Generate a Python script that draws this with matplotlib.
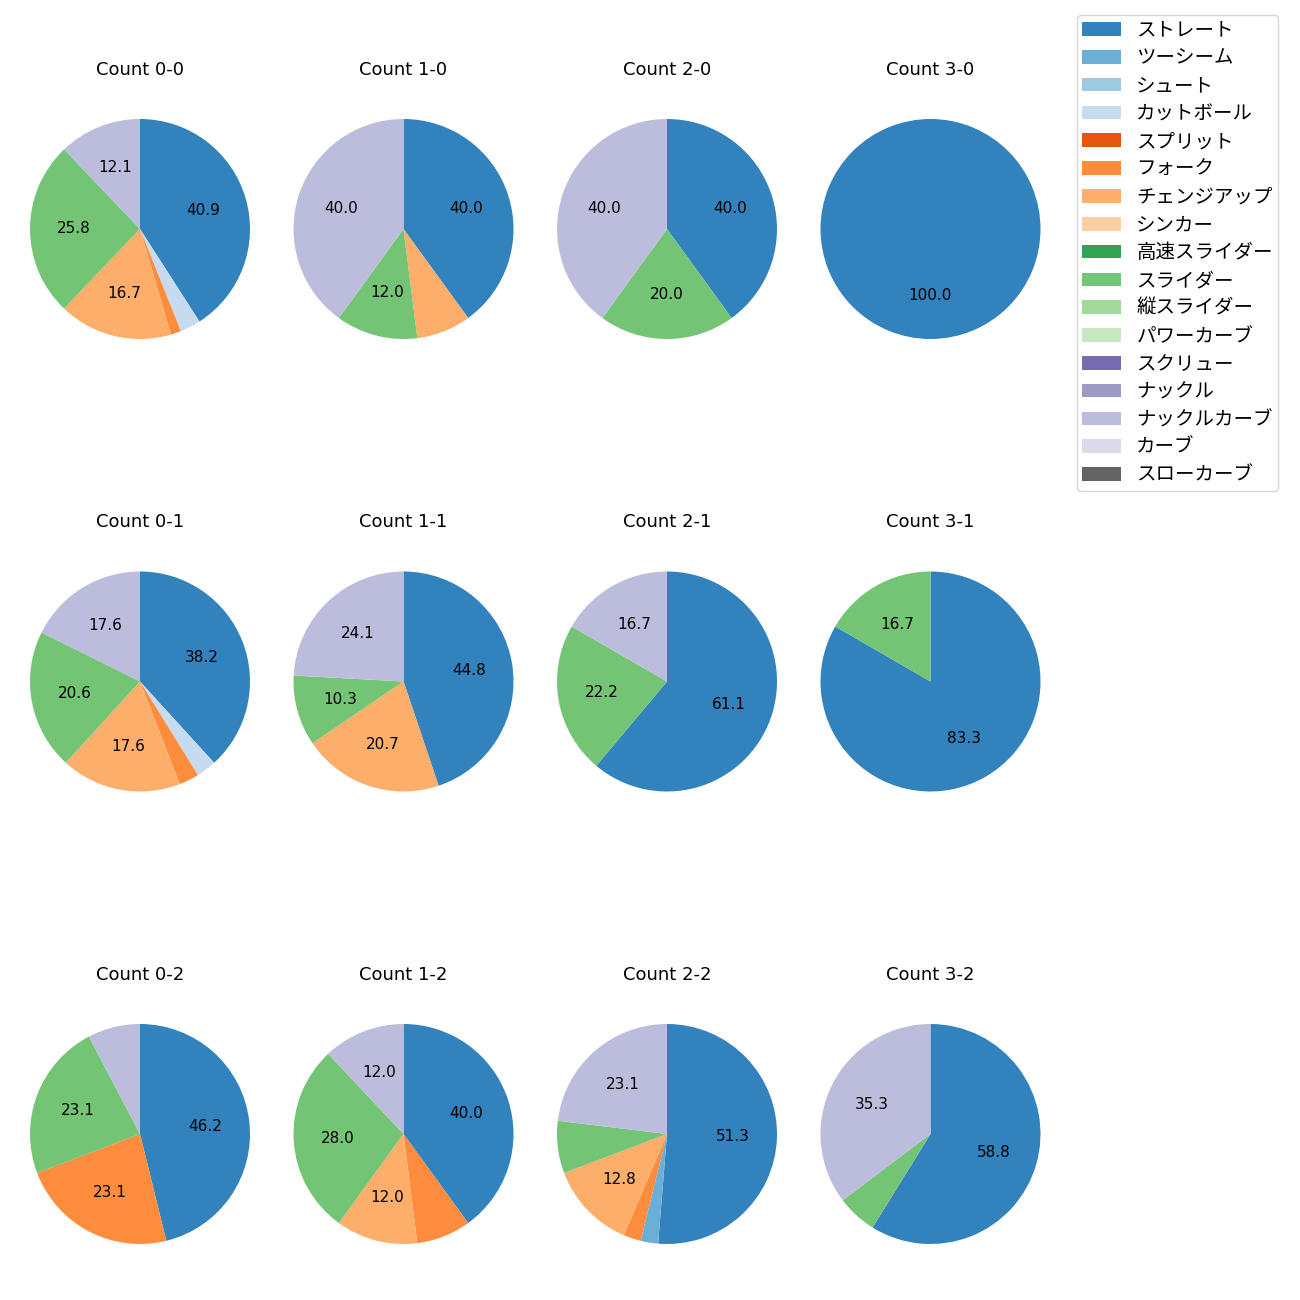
import matplotlib
matplotlib.use("Agg")
import matplotlib.pyplot as plt
from matplotlib.patches import Patch
import numpy as np

plt.rcParams['font.family'] = ['DejaVu Sans', 'Noto Sans CJK JP']

pitch_types = ["ストレート", "ツーシーム", "シュート", "カットボール", "スプリット", "フォーク",
               "チェンジアップ", "シンカー", "高速スライダー", "スライダー", "縦スライダー",
               "パワーカーブ", "スクリュー", "ナックル", "ナックルカーブ", "カーブ", "スローカーブ"]
colors = ["#3182bd", "#6baed6", "#9ecae1", "#c6dbef", "#e6550d", "#fd8d3c", "#fdae6b",
          "#fdd0a2", "#31a354", "#74c476", "#a1d99b", "#c7e9c0", "#756bb1", "#9e9ac8",
          "#bcbddc", "#dadaeb", "#636363"]

# pitch counts per ball-strike count, in pitch_types order
count_0_0 = [27, 0, 0, 2, 0, 1, 11, 0, 0, 17, 0, 0, 0, 0, 8, 0, 0]
count_1_0 = [10, 0, 0, 0, 0, 0, 2, 0, 0, 3, 0, 0, 0, 0, 10, 0, 0]
count_2_0 = [2, 0, 0, 0, 0, 0, 0, 0, 0, 1, 0, 0, 0, 0, 2, 0, 0]
count_3_0 = [1, 0, 0, 0, 0, 0, 0, 0, 0, 0, 0, 0, 0, 0, 0, 0, 0]
count_0_1 = [13, 0, 0, 1, 0, 1, 6, 0, 0, 7, 0, 0, 0, 0, 6, 0, 0]
count_1_1 = [13, 0, 0, 0, 0, 0, 6, 0, 0, 3, 0, 0, 0, 0, 7, 0, 0]
count_2_1 = [11, 0, 0, 0, 0, 0, 0, 0, 0, 4, 0, 0, 0, 0, 3, 0, 0]
count_3_1 = [5, 0, 0, 0, 0, 0, 0, 0, 0, 1, 0, 0, 0, 0, 0, 0, 0]
count_0_2 = [6, 0, 0, 0, 0, 3, 0, 0, 0, 3, 0, 0, 0, 0, 1, 0, 0]
count_1_2 = [10, 0, 0, 0, 0, 2, 3, 0, 0, 7, 0, 0, 0, 0, 3, 0, 0]
count_2_2 = [20, 1, 0, 0, 0, 1, 5, 0, 0, 3, 0, 0, 0, 0, 9, 0, 0]
count_3_2 = [10, 0, 0, 0, 0, 0, 0, 0, 0, 1, 0, 0, 0, 0, 6, 0, 0]

titles = ["Count 0-0", "Count 1-0", "Count 2-0", "Count 3-0",
          "Count 0-1", "Count 1-1", "Count 2-1", "Count 3-1",
          "Count 0-2", "Count 1-2", "Count 2-2", "Count 3-2"]
data = [count_0_0, count_1_0, count_2_0, count_3_0,
        count_0_1, count_1_1, count_2_1, count_3_1,
        count_0_2, count_1_2, count_2_2, count_3_2]

W = H = 1300
fig = plt.figure(figsize=(13, 13), dpi=100)
size = 275
xcent = [140, 403.5, 667, 930.5]
ycent = [229, 681.5, 1134]

for i, (title, vals) in enumerate(zip(titles, data)):
    r, c = divmod(i, 4)
    cx, cy = xcent[c], ycent[r]
    ax = fig.add_axes([(cx - size / 2) / W, 1 - (cy + size / 2) / H, size / W, size / H])
    vals = np.array(vals, dtype=float)
    mask = vals > 0
    ax.pie(vals[mask], colors=[col for col, m in zip(colors, mask) if m],
           startangle=90, counterclock=False,
           autopct=lambda p: f"{p:.1f}" if p >= 10 else "",
           textprops={'fontsize': 11})
    ax.set_title(title, fontsize=13, pad=12)

handles = [Patch(facecolor=col, label=lab) for col, lab in zip(colors, pitch_types)]
fig.legend(handles=handles, loc='upper left', bbox_to_anchor=(1077 / W, 1 - 15 / H),
           borderaxespad=0, prop={'family': ['Noto Sans CJK JP', 'DejaVu Sans'], 'size': 14},
           labelspacing=0.35, borderpad=0.25)

fig.savefig("out.png", dpi=100)
